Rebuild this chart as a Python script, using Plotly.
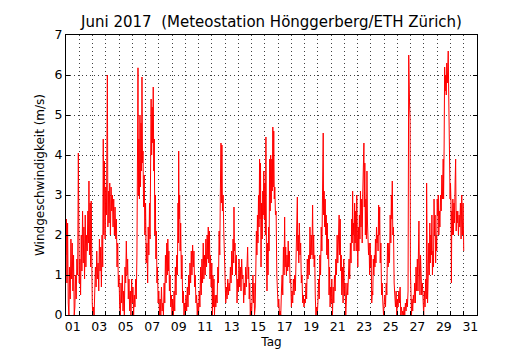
import plotly.graph_objects as go

# Wind speed readings, June 2017 (day offset from 1 June 00:00, value in m/s)
tag = [
 0.00,0.03,0.07,0.12,0.17,0.22,0.27,0.32,0.37,0.42,0.47,0.52,0.57,0.62,0.67,0.72,0.77,0.82,0.88,0.93,0.96,
 1.00,1.05,1.10,1.15,1.20,1.25,1.30,1.35,1.40,1.45,1.50,1.55,1.60,1.65,1.70,1.73,1.77,1.82,1.86,1.90,1.94,1.98,
 2.02,2.08,2.12,2.17,2.22,2.27,2.32,2.37,2.42,2.47,2.52,2.57,2.62,2.67,2.72,2.77,2.81,2.85,2.90,2.95,
 3.00,3.05,3.12,3.16,3.20,3.25,3.30,3.35,3.40,3.45,3.50,3.55,3.60,3.65,3.70,3.75,3.80,3.85,3.90,3.95,
 4.00,4.05,4.10,4.15,4.20,4.25,4.30,4.35,4.40,4.45,4.50,4.55,4.60,4.65,4.70,4.75,4.80,4.85,4.90,4.95,
 5.00,5.05,5.10,5.15,5.20,5.25,5.30,5.35,5.40,5.43,5.46,5.50,5.54,5.58,5.62,5.66,5.70,5.73,5.77,5.81,5.85,5.90,5.95,
 6.00,6.05,6.10,6.16,6.20,6.25,6.30,6.34,6.38,6.42,6.46,6.50,6.54,6.58,6.62,6.66,6.70,6.74,6.78,6.82,6.86,6.90,6.95,
 7.00,7.05,7.10,7.15,7.20,7.25,7.30,7.35,7.40,7.45,7.50,7.55,7.60,7.65,7.68,7.72,7.76,7.80,7.85,7.90,7.95,
 8.00,8.05,8.10,8.15,8.20,8.25,8.30,8.35,8.40,8.45,8.48,8.50,8.53,8.57,8.61,8.65,8.70,8.75,8.80,8.85,8.90,8.95,
 9.00,9.05,9.10,9.15,9.20,9.25,9.30,9.35,9.40,9.45,9.50,9.55,9.60,9.65,9.70,9.75,9.80,9.85,9.90,9.95,
 10.00,10.05,10.10,10.15,10.20,10.25,10.30,10.35,10.40,10.45,10.50,10.55,10.60,10.65,10.70,10.73,10.77,10.82,10.86,10.90,10.95,
 11.00,11.04,11.08,11.12,11.16,11.20,11.25,11.30,11.35,11.40,11.45,11.50,11.55,11.60,11.64,11.69,11.72,11.76,11.80,11.85,11.90,11.95,
 12.00,12.05,12.10,12.15,12.20,12.25,12.30,12.35,12.40,12.45,12.50,12.55,12.60,12.65,12.67,12.70,12.75,12.80,12.85,12.90,12.95,
 13.00,13.05,13.10,13.15,13.20,13.25,13.30,13.35,13.40,13.45,13.50,13.55,13.60,13.65,13.70,13.74,13.78,13.82,13.86,13.90,13.95,
 14.00,14.05,14.10,14.14,14.18,14.22,14.27,14.32,14.36,14.40,14.44,14.48,14.52,14.56,14.60,14.63,14.67,14.71,14.75,14.80,14.84,14.88,14.92,14.96,
 15.00,15.04,15.08,15.12,15.16,15.20,15.24,15.28,15.32,15.36,15.40,15.44,15.48,15.52,15.56,15.60,15.63,15.67,15.71,15.75,15.80,15.85,15.90,15.95,
 16.00,16.05,16.10,16.15,16.20,16.25,16.30,16.35,16.40,16.45,16.49,16.53,16.57,16.62,16.67,16.72,16.76,16.80,16.85,16.90,16.95,
 17.00,17.05,17.10,17.15,17.20,17.25,17.30,17.35,17.40,17.45,17.48,17.52,17.56,17.60,17.65,17.70,17.75,17.80,17.85,17.90,17.95,
 18.00,18.05,18.10,18.15,18.20,18.25,18.30,18.35,18.40,18.45,18.50,18.55,18.60,18.64,18.68,18.72,18.76,18.80,18.85,18.90,18.95,
 19.00,19.05,19.10,19.15,19.20,19.25,19.30,19.35,19.40,19.43,19.47,19.51,19.55,19.59,19.63,19.67,19.71,19.75,19.80,19.84,19.88,19.92,19.96,
 20.00,20.05,20.10,20.15,20.20,20.25,20.30,20.35,20.40,20.45,20.50,20.55,20.60,20.64,20.68,20.72,20.76,20.80,20.85,20.90,20.95,
 21.00,21.05,21.10,21.15,21.20,21.25,21.30,21.35,21.40,21.45,21.50,21.55,21.59,21.62,21.65,21.69,21.73,21.77,21.81,21.85,21.89,21.93,21.97,
 22.01,22.05,22.09,22.13,22.17,22.21,22.25,22.30,22.34,22.38,22.42,22.47,22.50,22.54,22.58,22.62,22.66,22.70,22.74,22.78,22.82,22.86,22.90,22.94,22.98,
 23.02,23.06,23.10,23.14,23.18,23.22,23.26,23.30,23.34,23.38,23.42,23.46,23.50,23.54,23.58,23.62,23.66,23.70,23.75,23.80,23.85,23.90,23.95,
 24.00,24.05,24.10,24.15,24.20,24.25,24.30,24.35,24.40,24.45,24.50,24.54,24.58,24.61,24.65,24.70,24.75,24.80,24.85,24.90,24.95,
 25.00,25.05,25.10,25.15,25.20,25.25,25.30,25.35,25.40,25.45,25.50,25.55,25.60,25.65,25.70,25.75,25.80,25.85,25.88,25.92,25.95,25.98,
 26.02,26.06,26.10,26.15,26.20,26.25,26.30,26.35,26.40,26.45,26.50,26.55,26.58,26.62,26.65,26.70,26.74,26.78,26.83,26.88,26.93,26.98,
 27.03,27.08,27.13,27.18,27.20,27.23,27.27,27.32,27.36,27.40,27.44,27.48,27.52,27.56,27.60,27.64,27.68,27.72,27.76,27.80,27.84,27.88,27.92,27.96,
 28.00,28.04,28.08,28.12,28.16,28.20,28.25,28.30,28.35,28.40,28.45,28.48,28.52,28.56,28.60,28.64,28.68,28.72,28.76,28.80,28.83,28.86,28.90,28.93,28.97,
 29.00,29.04,29.07,29.10,29.14,29.18,29.22,29.26,29.30,29.35,29.39,29.43,29.47,29.51,29.55,29.60,29.65,29.70,29.75,29.80,29.85,29.90,29.95,
 30.00,
]

wind = [
 1.5,2.4,0.8,2.3,0.3,0.0,1.2,0.4,1.9,0.9,1.8,0.6,1.5,0.0,0.2,1.0,0.4,1.4,1.0,4.05,1.5,
 0.8,1.4,0.5,2.0,1.1,2.6,1.3,2.2,0.9,2.5,1.2,2.0,1.6,2.6,1.8,3.35,1.5,2.8,1.2,2.85,0.8,0.3,
 0.0,0.2,0.0,0.6,1.2,0.7,1.6,0.9,1.3,0.6,1.9,1.1,1.7,0.7,2.0,1.2,4.4,2.0,3.85,1.9,
 3.2,2.5,6.0,2.2,3.1,2.3,3.3,2.0,3.2,2.6,3.0,2.2,2.9,2.0,2.7,1.9,2.4,1.2,1.8,0.7,
 1.0,0.2,0.0,0.8,0.3,1.0,0.1,0.6,0.0,1.2,0.8,1.85,1.0,1.4,0.4,0.9,0.1,0.6,0.0,0.9,
 0.3,0.7,0.0,0.5,0.2,0.9,0.4,1.5,3.5,6.18,3.0,4.4,2.9,5.0,3.2,4.8,3.6,5.95,3.8,4.1,2.7,3.5,2.0,
 2.8,1.3,1.8,0.8,2.2,1.5,2.8,1.9,3.5,5.4,4.0,5.2,4.3,5.7,3.6,4.4,2.0,3.0,1.4,2.1,0.8,1.2,0.3,
 0.6,0.0,0.4,0.0,0.7,0.1,0.3,0.0,0.8,0.3,1.5,0.8,1.8,1.0,1.9,1.1,1.6,0.6,1.0,0.2,0.5,
 0.0,0.4,0.0,0.6,0.1,1.2,0.5,1.5,1.0,2.8,1.8,4.1,2.4,3.0,1.6,2.3,0.9,1.5,0.3,0.6,0.0,0.3,
 0.0,0.5,0.1,0.7,0.2,1.0,0.5,1.3,0.8,1.6,1.0,1.75,1.2,1.6,0.7,1.0,0.3,0.5,0.0,0.3,
 0.0,0.6,0.2,1.2,0.5,1.4,0.8,1.8,0.9,1.5,1.0,1.9,1.2,2.0,1.4,2.2,1.3,2.1,0.9,1.5,0.7,
 1.3,0.0,1.0,0.2,0.9,0.0,0.5,0.2,0.5,0.3,1.2,0.8,2.1,1.5,3.0,4.3,2.8,4.25,2.6,3.0,2.1,1.4,
 0.8,0.3,0.7,0.4,0.9,0.5,0.8,0.6,1.2,0.8,1.6,1.0,1.9,1.3,2.7,1.6,1.8,1.0,1.5,0.3,0.9,
 0.6,1.4,0.7,1.2,0.6,1.4,0.9,1.0,0.3,0.8,0.5,1.2,0.7,1.3,1.7,0.9,1.2,0.4,0.8,0.0,0.3,
 0.0,0.5,1.0,0.3,0.8,0.0,0.2,1.2,2.1,1.5,2.5,1.8,3.0,2.2,3.9,2.4,3.8,1.2,2.8,1.9,3.1,2.5,3.6,2.4,
 3.3,2.0,4.45,1.5,0.6,1.8,1.0,2.2,1.6,3.9,2.6,4.0,2.8,3.9,3.1,4.7,3.2,4.6,2.9,3.2,2.5,2.6,1.0,0.5,
 0.2,0.4,0.0,0.1,0.0,0.6,1.0,0.5,1.7,1.0,2.45,1.2,1.7,1.0,1.5,1.1,1.85,1.2,1.6,0.8,0.9,
 0.2,0.6,0.3,0.9,0.5,1.0,0.6,1.4,2.0,2.95,1.6,2.0,1.3,2.3,1.5,1.8,0.8,1.0,0.3,0.5,0.2,
 0.4,0.3,0.8,0.4,1.4,0.9,1.5,1.0,2.2,1.4,2.0,1.5,2.75,1.4,2.0,1.2,1.5,0.5,0.0,0.2,0.0,
 0.3,0.9,0.4,1.5,1.0,2.2,1.6,3.2,4.55,2.5,3.1,2.2,2.9,2.0,2.5,1.5,2.3,1.4,1.9,0.5,1.2,0.2,0.7,
 0.3,0.9,0.0,0.7,0.3,1.0,0.6,1.4,1.0,2.0,1.3,2.3,2.5,1.5,2.4,1.1,1.5,0.5,1.2,0.3,1.4,
 0.5,0.8,0.0,0.3,0.8,0.5,1.0,1.4,0.9,1.8,1.3,2.4,1.8,3.1,2.0,2.3,1.6,2.8,1.8,2.6,1.6,3.0,2.0,
 1.2,2.2,1.6,2.5,1.9,3.1,2.2,2.9,1.8,3.0,3.5,4.3,2.7,3.8,2.0,2.9,1.9,3.6,2.3,2.0,1.5,1.8,1.0,1.8,1.2,
 1.5,0.3,0.6,0.5,1.4,1.0,1.5,1.2,1.9,1.3,2.2,1.8,2.0,1.6,2.75,2.0,2.7,1.3,1.8,0.5,0.8,0.3,0.0,
 0.3,0.5,0.2,0.8,0.5,1.8,1.2,1.8,1.3,2.5,1.8,3.0,2.4,3.35,2.0,2.2,0.8,0.5,0.2,0.6,0.0,
 0.4,0.2,0.6,0.3,0.7,0.0,0.2,0.0,0.1,0.0,0.2,0.0,0.3,0.1,0.4,0.2,0.6,6.5,5.9,5.2,4.9,1.1,
 0.3,0.0,0.4,0.1,0.5,0.3,0.8,0.3,1.2,0.6,1.4,0.6,1.5,2.35,1.3,0.5,1.5,1.0,0.5,0.8,0.2,0.0,
 0.6,0.2,0.9,0.4,3.3,1.0,0.3,1.0,1.8,1.0,2.3,1.3,2.0,1.5,2.5,1.0,1.6,1.2,2.9,2.0,2.5,1.3,2.0,1.6,
 2.9,2.5,3.0,2.0,2.6,2.2,3.0,2.6,3.5,2.9,3.9,2.9,4.2,6.2,5.6,6.0,5.5,6.3,5.8,6.2,6.6,5.7,4.5,4.1,2.9,
 3.3,2.8,0.8,2.6,2.0,2.9,2.0,2.8,2.3,3.3,3.9,2.1,2.6,2.3,2.6,2.0,2.5,2.2,2.8,1.9,3.0,2.0,2.8,
 1.6,
]

day_positions = [d + 0.5 for d in range(0, 31, 2)]
day_labels = ["%02d" % (d + 1) for d in range(0, 31, 2)]
day_bounds = list(range(1, 31))

fig = go.Figure()
fig.add_trace(go.Scatter(x=tag, y=wind, mode="lines",
                         line=dict(color="#ff0000", width=1),
                         hoverinfo="skip", showlegend=False))

font_family = "DejaVu Sans"
grid_col = "rgba(0,0,0,0.75)"
grid_dash = "1px,3px"
fig.update_layout(
    width=530, height=350,
    margin=dict(l=66, r=53, t=35, b=35, autoexpand=False),
    paper_bgcolor="white", plot_bgcolor="white",
    font=dict(family=font_family, size=12, color="black"),
    title=dict(text="Juni 2017 \u00a0(Meteostation Hönggerberg/ETH Zürich)",
               x=0.5, xref="paper", xanchor="center",
               y=1 - 22 / 350, yref="container", yanchor="middle",
               font=dict(size=15, family=font_family, color="black")),
    showlegend=False,
)
fig.update_xaxes(
    range=[0, 31], tickmode="array", tickvals=day_positions, ticktext=day_labels,
    ticks="", showgrid=False, zeroline=False, automargin=False,
    showline=True, linecolor="black", linewidth=1, mirror=True,
    minor=dict(tickmode="array", tickvals=day_bounds, showgrid=True,
               gridcolor=grid_col, gridwidth=1, griddash=grid_dash,
               ticks="inside", ticklen=4, tickcolor="black"),
    title=dict(text="Tag", standoff=4, font=dict(size=12)),
    tickfont=dict(size=12.5),
)
fig.update_yaxes(
    range=[0, 7], tickmode="linear", tick0=0, dtick=1,
    ticks="inside", ticklen=4, tickcolor="black", automargin=False,
    showgrid=True, gridcolor=grid_col, gridwidth=1, griddash=grid_dash,
    zeroline=False, showline=True, linecolor="black", linewidth=1, mirror="ticks",
    title=dict(text="Windgeschwindigkeit (m/s)", standoff=7, font=dict(size=12)),
    tickfont=dict(size=12.5),
)

fig.write_html("out.html", config={"displayModeBar": False},
               post_script="document.body.style.margin='0';document.body.style.padding='0';")
